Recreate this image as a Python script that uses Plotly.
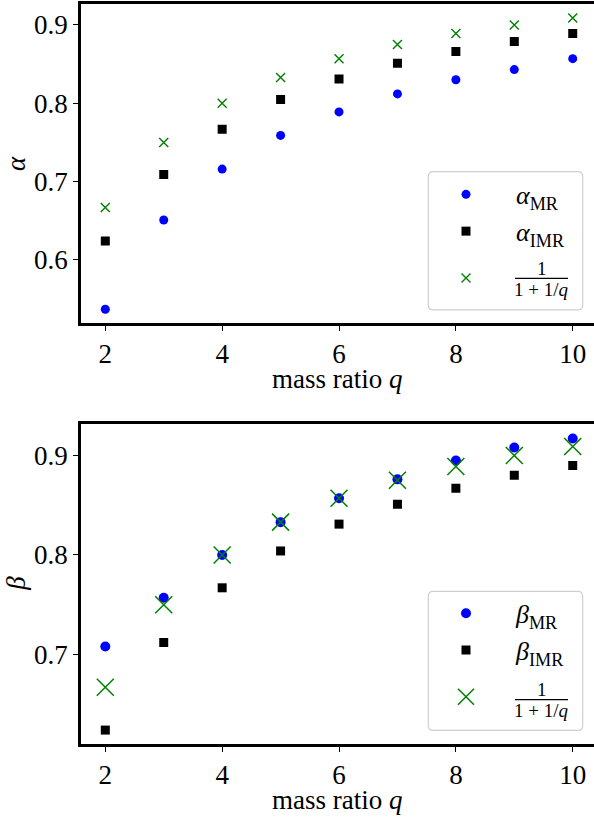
import plotly.graph_objects as go

# ---------------- data ----------------
q = [2, 3, 4, 5, 6, 7, 8, 9, 10]
alpha_mr = [0.537, 0.651, 0.716, 0.759, 0.789, 0.812, 0.830, 0.843, 0.857]
alpha_imr = [0.624, 0.709, 0.767, 0.805, 0.831, 0.851, 0.866, 0.879, 0.889]
ratio = [0.667, 0.750, 0.800, 0.833, 0.857, 0.875, 0.889, 0.900, 0.909]
beta_mr = [0.708, 0.757, 0.800, 0.833, 0.857, 0.876, 0.895, 0.908, 0.917]
beta_imr = [0.624, 0.712, 0.767, 0.804, 0.831, 0.851, 0.867, 0.880, 0.890]
x_ticks = [2, 4, 6, 8, 10]
alpha_ticks = [0.6, 0.7, 0.8, 0.9]
beta_ticks = [0.7, 0.8, 0.9]

# ---------------- geometry helpers ----------------
W, H = 594, 818
ML, MR, MT, MB = 81, 0, 4, 73.7
PW, PH = W - ML - MR, H - MT - MB


def px(x):
    return (x - ML) / PW


def py(y):
    return (H - MB - y) / PH


FONT = "Liberation Serif"
FS = 27
BLUE, GREEN = "#0000ff", "#008000"

fig = go.Figure()

# top panel
fig.add_trace(go.Scatter(x=q, y=alpha_mr, mode="markers", xaxis="x", yaxis="y",
                         name="<i>α</i><sub>MR</sub>", legend="legend", legendgroup="a1",
                         marker=dict(symbol="circle", size=9, color=BLUE)))
fig.add_trace(go.Scatter(x=q, y=alpha_imr, mode="markers", xaxis="x", yaxis="y",
                         name="<i>α</i><sub>IMR</sub>", legend="legend", legendgroup="a1",
                         marker=dict(symbol="square", size=9, color="black")))
fig.add_trace(go.Scatter(x=q, y=ratio, mode="markers", xaxis="x", yaxis="y",
                         name="<sub> </sub>", legend="legend", legendgroup="a3",
                         marker=dict(symbol="x-thin", size=9, color=GREEN,
                                     line=dict(color=GREEN, width=1.4))))
# bottom panel
fig.add_trace(go.Scatter(x=q, y=beta_mr, mode="markers", xaxis="x2", yaxis="y2",
                         name="<i>β</i><sub>MR</sub>", legend="legend2", legendgroup="b1",
                         marker=dict(symbol="circle", size=10, color=BLUE)))
fig.add_trace(go.Scatter(x=q, y=beta_imr, mode="markers", xaxis="x2", yaxis="y2",
                         name="<i>β</i><sub>IMR</sub>", legend="legend2", legendgroup="b1",
                         marker=dict(symbol="square", size=9, color="black")))
fig.add_trace(go.Scatter(x=q, y=ratio, mode="markers", xaxis="x2", yaxis="y2",
                         name="<sub> </sub>", legend="legend2", legendgroup="b3",
                         marker=dict(symbol="x-thin", size=17, color=GREEN,
                                     line=dict(color=GREEN, width=1.5))))

axis_common = dict(showline=True, linewidth=2.5, linecolor="black", ticks="outside",
                   ticklen=5, tickwidth=1, tickcolor="black", showgrid=False,
                   zeroline=False, tickfont=dict(family=FONT, size=FS, color="black"))

xr = [1.584, 10.364]
top_dom = [py(323.3), py(4)]
bot_dom = [py(744.3), py(424)]

legend_common = dict(xanchor="left", yanchor="top", bgcolor="rgba(0,0,0,0)",
                     borderwidth=0, traceorder="grouped", tracegroupgap=10,
                     itemwidth=90, font=dict(family=FONT, size=26, color="black"))

fig.update_layout(
    width=W, height=H,
    margin=dict(l=ML, r=MR, t=MT, b=MB, autoexpand=False),
    paper_bgcolor="white", plot_bgcolor="white",
    xaxis=dict(anchor="y", domain=[0, 1], range=xr, tickvals=x_ticks, mirror=True, **axis_common),
    yaxis=dict(anchor="x", domain=top_dom, range=[0.5192, 0.9268], tickvals=alpha_ticks,
               ticktext=[f"{v:.1f}" for v in alpha_ticks], **axis_common),
    xaxis2=dict(anchor="y2", domain=[0, 1], range=xr, tickvals=x_ticks, mirror=True, **axis_common),
    yaxis2=dict(anchor="x2", domain=bot_dom, range=[0.61, 0.9318], tickvals=beta_ticks,
                ticktext=[f"{v:.1f}" for v in beta_ticks], **axis_common),
    legend=dict(x=px(416), y=py(171), **legend_common),
    legend2=dict(x=px(416), y=py(590), **legend_common),
    showlegend=True,
)


def rounded_box(x0, y0, x1, y1, r=5):
    X0, X1 = px(x0), px(x1)
    Y0, Y1 = py(y0), py(y1)
    rx, ry = r / PW, r / PH
    return (f"M{X0+rx},{Y0} L{X1-rx},{Y0} Q{X1},{Y0} {X1},{Y0-ry} "
            f"L{X1},{Y1+ry} Q{X1},{Y1} {X1-rx},{Y1} L{X0+rx},{Y1} "
            f"Q{X0},{Y1} {X0},{Y1+ry} L{X0},{Y0-ry} Q{X0},{Y0} {X0+rx},{Y0} Z")


shapes = []
for (y0, y1) in [(171.7, 310), (591.7, 730.7)]:
    shapes.append(dict(type="path", xref="paper", yref="paper", layer="above",
                       path=rounded_box(428.3, y0, 582.7, y1),
                       fillcolor="rgba(255,255,255,0.8)",
                       line=dict(color="#d0d0d0", width=1.2)))
# fraction bars
for yb in [278.5, 700]:
    shapes.append(dict(type="line", xref="paper", yref="paper", layer="above",
                       x0=px(515), x1=px(568), y0=py(yb), y1=py(yb),
                       line=dict(color="black", width=1.3)))
fig.update_layout(shapes=shapes)

ann = []
for (yn, yd) in [(268.5, 290), (690, 711)]:
    ann.append(dict(text="1", x=px(541.5), y=py(yn), xref="paper", yref="paper",
                    showarrow=False, xanchor="center", yanchor="middle",
                    font=dict(family=FONT, size=19, color="black")))
    ann.append(dict(text="1 + 1/<i>q</i>", x=px(541.5), y=py(yd), xref="paper", yref="paper",
                    showarrow=False, xanchor="center", yanchor="middle",
                    font=dict(family=FONT, size=19, color="black")))
# axis titles
for yt in [379, 800]:
    ann.append(dict(text="mass ratio <i>q</i>", x=px(337), y=py(yt), xref="paper", yref="paper",
                    showarrow=False, xanchor="center", yanchor="middle",
                    font=dict(family=FONT, size=FS, color="black")))
ann.append(dict(text="<i>α</i>", x=px(16), y=py(164), xref="paper", yref="paper",
                showarrow=False, xanchor="center", yanchor="middle", textangle=-90,
                font=dict(family=FONT, size=FS, color="black")))
ann.append(dict(text="<i>β</i>", x=px(16), y=py(584), xref="paper", yref="paper",
                showarrow=False, xanchor="center", yanchor="middle", textangle=-90,
                font=dict(family=FONT, size=FS, color="black")))
fig.update_layout(annotations=ann)

fig.write_html("out.html")
